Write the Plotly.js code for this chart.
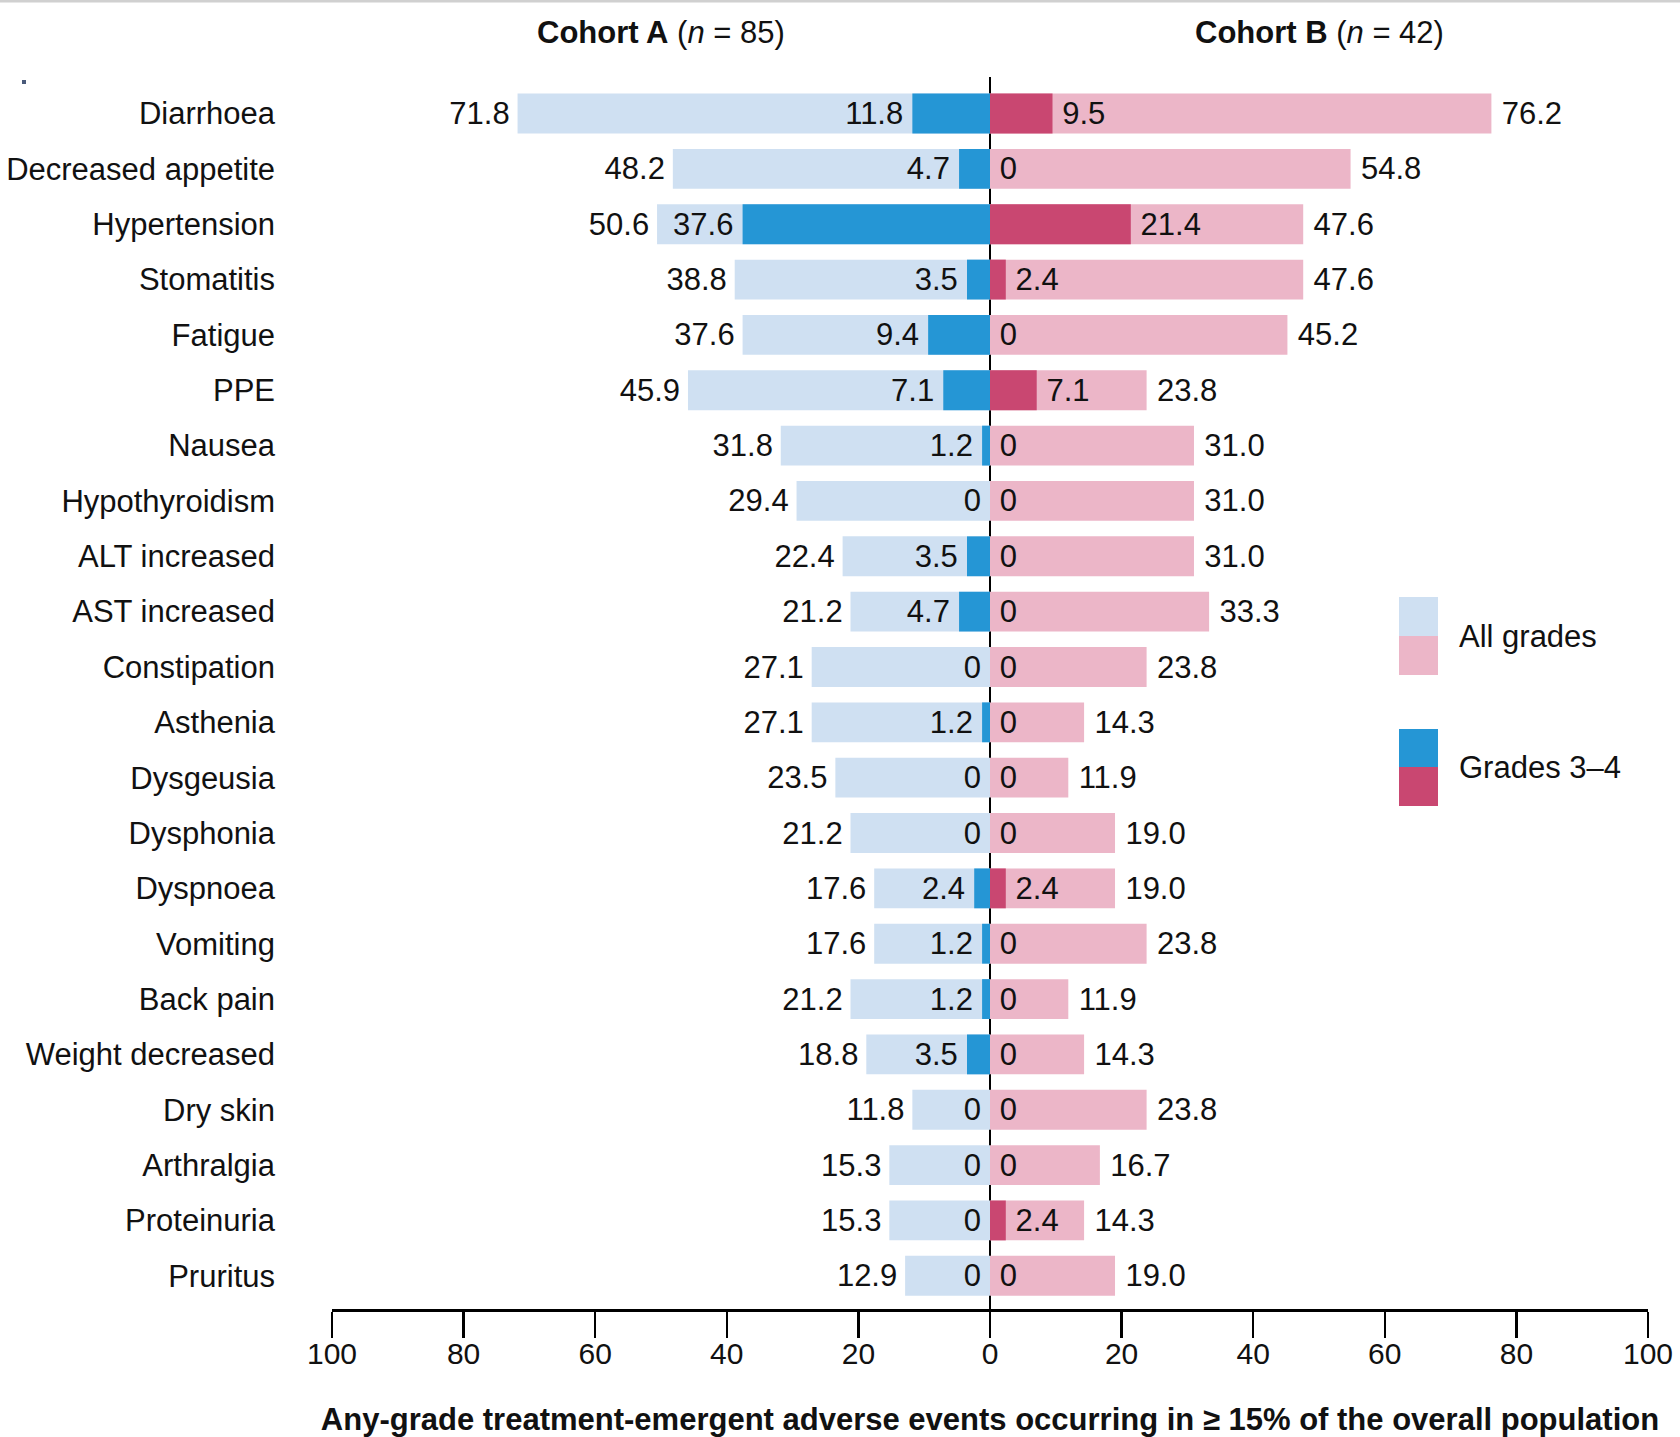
<!DOCTYPE html>
<html>
<head>
<meta charset="utf-8">
<script src="https://cdn.plot.ly/plotly-3.0.1.min.js"></script>
<style>html,body{margin:0;padding:0;background:#fff;}#chart{width:1680px;height:1437px;}</style>
</head>
<body>
<div id="chart"></div>
<script>
// ---- data ----
const categories = ["Diarrhoea","Decreased appetite","Hypertension","Stomatitis","Fatigue","PPE","Nausea","Hypothyroidism","ALT increased","AST increased","Constipation","Asthenia","Dysgeusia","Dysphonia","Dyspnoea","Vomiting","Back pain","Weight decreased","Dry skin","Arthralgia","Proteinuria","Pruritus"];
const cohortA_all = [71.8,48.2,50.6,38.8,37.6,45.9,31.8,29.4,22.4,21.2,27.1,27.1,23.5,21.2,17.6,17.6,21.2,18.8,11.8,15.3,15.3,12.9];
const cohortA_g34 = [11.8,4.7,37.6,3.5,9.4,7.1,1.2,0,3.5,4.7,0,1.2,0,0,2.4,1.2,1.2,3.5,0,0,0,0];
const cohortB_all = [76.2,54.8,47.6,47.6,45.2,23.8,31.0,31.0,31.0,33.3,23.8,14.3,11.9,19.0,19.0,23.8,11.9,14.3,23.8,16.7,14.3,19.0];
const cohortB_g34 = [9.5,0,21.4,2.4,0,7.1,0,0,0,0,0,0,0,0,2.4,0,0,0,0,0,2.4,0];
const tickVals = [-100,-80,-60,-40,-20,0,20,40,60,80,100];
const tickText = ["100","80","60","40","20","0","20","40","60","80","100"];
const cohortTitles = ['<b>Cohort A</b> (<i>n</i> = 85)', '<b>Cohort B</b> (<i>n</i> = 42)'];
const legendLabels = ['All grades', 'Grades 3–4'];
const xTitle = '<b>Any-grade treatment-emergent adverse events occurring in ≥ 15% of the overall population</b>';

// ---- style ----
const FONT = '"Liberation Sans", Arial, sans-serif';
const FS = 31;
const C_A_ALL = '#cfe0f2', C_A_G34 = '#2596d5', C_B_ALL = '#ecb6c8', C_B_G34 = '#c94771';
const neg = a => a.map(v => -v);
const fmt1 = a => a.map(v => v === 0 ? '0' : v.toFixed(1));
const BW = 0.72;
const Y0 = 21.6, Y1 = -0.66, TXT_SHIFT = 0.05;

function barTrace(x, color) {
  return {type:'bar', orientation:'h', y:categories, x:x, width:BW,
          marker:{color:color, line:{width:0}}, hoverinfo:'skip', showlegend:false};
}
function textTrace(x, txt, pos, pad) {
  return {type:'scatter', mode:'markers+text', y:categories, x:x, text:txt, yaxis:'y2',
          textposition:pos, marker:{size:pad, opacity:0},
          textfont:{family:FONT, size:FS, color:'#111'}, hoverinfo:'skip', showlegend:false, cliponaxis:false};
}

const traces = [
  barTrace(neg(cohortA_all), C_A_ALL),
  barTrace(neg(cohortA_g34), C_A_G34),
  barTrace(cohortB_all, C_B_ALL),
  barTrace(cohortB_g34, C_B_G34),
  textTrace(neg(cohortA_all), fmt1(cohortA_all), 'middle left', 11),
  textTrace(neg(cohortA_g34), fmt1(cohortA_g34), 'middle left', 13),
  textTrace(cohortB_all, fmt1(cohortB_all), 'middle right', 15),
  textTrace(cohortB_g34, fmt1(cohortB_g34), 'middle right', 14)
];

const L = 332, R = 32, T = 77, B = 128;
const W = 1680 - L - R, H = 1437 - T - B;
const px = x => (x - L) / W;
const py = y => (1437 - B - y) / H;

const shapes = [
  {type:'line', xref:'paper', yref:'paper', x0:px(0), x1:px(1680), y0:py(1), y1:py(1), line:{color:'#d0d0d0', width:3}},
  {type:'rect', xref:'paper', yref:'paper', x0:px(22), x1:px(26), y0:py(80), y1:py(84), line:{width:0}, fillcolor:'#4a5a7a'},
  {type:'rect', xref:'paper', yref:'paper', x0:px(1399), x1:px(1438), y0:py(597), y1:py(636), line:{width:0}, fillcolor:C_A_ALL},
  {type:'rect', xref:'paper', yref:'paper', x0:px(1399), x1:px(1438), y0:py(636), y1:py(675), line:{width:0}, fillcolor:C_B_ALL},
  {type:'rect', xref:'paper', yref:'paper', x0:px(1399), x1:px(1438), y0:py(729), y1:py(767), line:{width:0}, fillcolor:C_A_G34},
  {type:'rect', xref:'paper', yref:'paper', x0:px(1399), x1:px(1438), y0:py(767), y1:py(806), line:{width:0}, fillcolor:C_B_G34}
];

const annotations = [
  {xref:'x', yref:'paper', x:-50, y:py(33), text:cohortTitles[0], showarrow:false, font:{family:FONT, size:31, color:'#111'}, xanchor:'center', yanchor:'middle'},
  {xref:'x', yref:'paper', x:50, y:py(33), text:cohortTitles[1], showarrow:false, font:{family:FONT, size:31, color:'#111'}, xanchor:'center', yanchor:'middle'},
  {xref:'paper', yref:'paper', x:px(1457), y:py(636), text:legendLabels[0], showarrow:false, font:{family:FONT, size:FS, color:'#111'}, xanchor:'left', yanchor:'middle'},
  {xref:'paper', yref:'paper', x:px(1457), y:py(767), text:legendLabels[1], showarrow:false, font:{family:FONT, size:FS, color:'#111'}, xanchor:'left', yanchor:'middle'}
];

const layout = {
  width:1680, height:1437,
  margin:{l:L, r:R, t:T, b:B, pad:0},
  paper_bgcolor:'#fff', plot_bgcolor:'#fff',
  barmode:'overlay',
  font:{family:FONT, size:FS, color:'#111'},
  xaxis:{range:[-100,100], tickvals:tickVals, ticktext:tickText, showgrid:false,
         zeroline:true, zerolinecolor:'#000', zerolinewidth:2.5,
         showline:true, linecolor:'#000', linewidth:3,
         ticks:'outside', ticklen:26, tickwidth:2.5, tickcolor:'#000', ticklabelstandoff:-10,
         tickfont:{family:FONT, size:30, color:'#111'}, fixedrange:true, automargin:false,
         title:{text:xTitle, font:{family:FONT, size:31, color:'#111'}, standoff:41}},
  yaxis:{type:'category', categoryorder:'array', categoryarray:categories,
         range:[Y0,Y1], showgrid:false, zeroline:false, showline:false, ticks:'',
         ticklabelstandoff:56, tickfont:{family:FONT, size:FS, color:'#111'}, fixedrange:true, automargin:false},
  yaxis2:{type:'category', categoryorder:'array', categoryarray:categories, overlaying:'y',
         range:[Y0-TXT_SHIFT, Y1-TXT_SHIFT], showgrid:false, zeroline:false, showline:false, ticks:'',
         showticklabels:false, fixedrange:true, automargin:false},
  shapes:shapes,
  annotations:annotations,
  showlegend:false
};

Plotly.newPlot('chart', traces, layout, {displayModeBar:false, staticPlot:true});
</script>
</body>
</html>
